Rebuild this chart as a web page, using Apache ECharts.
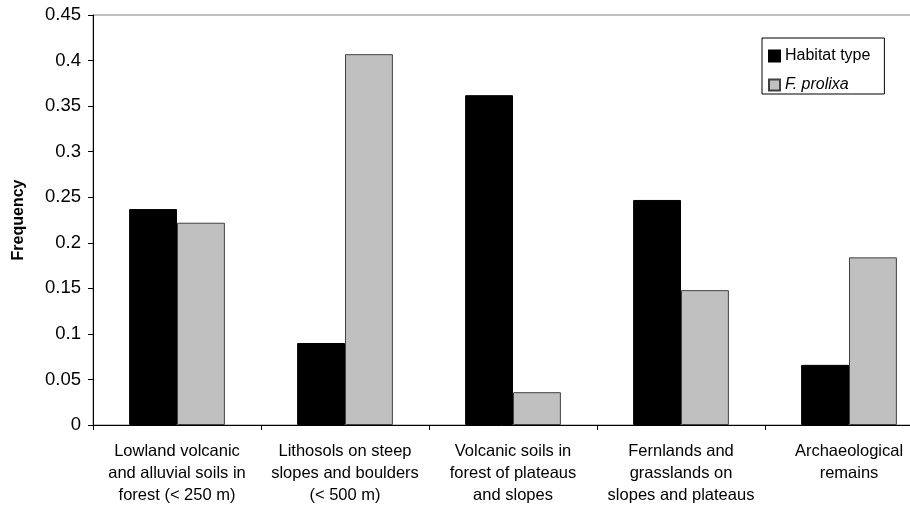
<!DOCTYPE html>
<html>
<head>
<meta charset="utf-8">
<script src="https://cdn.jsdelivr.net/npm/echarts@6/dist/echarts.min.js"></script>
<style>
html,body{margin:0;padding:0;background:#fff;}
#c{width:910px;height:506px;}
</style>
</head>
<body>
<div id="c"></div>
<script>
const categories = [
  "Lowland volcanic\nand alluvial soils in\nforest (< 250 m)",
  "Lithosols on steep\nslopes and boulders\n(< 500 m)",
  "Volcanic soils in\nforest of plateaus\nand slopes",
  "Fernlands and\ngrasslands on\nslopes and plateaus",
  "Archaeological\nremains"
];
const habitatType = [0.237, 0.090, 0.362, 0.247, 0.066];
const fProlixa = [0.222, 0.407, 0.036, 0.148, 0.184];
const yTicks = [0, 0.05, 0.1, 0.15, 0.2, 0.25, 0.3, 0.35, 0.4, 0.45];

const chart = echarts.init(document.getElementById('c'), null, {renderer: 'canvas'});
const font = 'Liberation Sans, Arial, sans-serif';
chart.setOption({
  animation: false,
  backgroundColor: '#fff',
  textStyle: {fontFamily: font},
  grid: {
    left: 93, top: 15, width: 840, bottom: 81,
    outerBoundsMode: 'none',
    containLabel: false,
    show: true, borderColor: '#808080', borderWidth: 1, backgroundColor: 'transparent'
  },
  legend: {
    orient: 'vertical',
    left: 762, top: 38,
    padding: [10, 14, 1, 6],
    itemGap: 13,
    itemWidth: 11, itemHeight: 11,
    icon: 'rect',
    borderColor: '#000', borderWidth: 1,
    backgroundColor: '#fff',
    textStyle: {fontSize: 16, color: '#000', fontFamily: font,
      rich: {i: {fontStyle: 'italic', fontSize: 16, fontFamily: font, color: '#000'}}},
    formatter: function (n) { return n === 'F. prolixa' ? '{i|F. prolixa}' : n; },
    data: ['Habitat type', 'F. prolixa']
  },
  xAxis: {
    type: 'category',
    data: categories,
    axisLine: {lineStyle: {color: '#000', width: 1}},
    axisTick: {show: true, length: 5, lineStyle: {color: '#000'}},
    axisLabel: {color: '#000', fontSize: 16.5, lineHeight: 22, margin: 15, interval: 0, fontFamily: font}
  },
  yAxis: {
    type: 'value',
    min: 0, max: 0.45, interval: 0.05,
    name: 'Frequency',
    nameLocation: 'middle',
    nameGap: 66,
    nameRotate: 90,
    nameTextStyle: {fontSize: 16, fontWeight: 'bold', color: '#000', fontFamily: font},
    axisLine: {show: true, lineStyle: {color: '#000', width: 1}},
    axisTick: {show: true, length: 5, lineStyle: {color: '#000'}},
    splitLine: {show: false},
    axisLabel: {color: '#000', fontSize: 18.5, margin: 12, fontFamily: font,
      formatter: function (v) {
        const t = yTicks.find(x => Math.abs(x - v) < 1e-9);
        return t === undefined ? '' : String(+t.toFixed(2));
      }}
  },
  series: [
    {
      name: 'Habitat type', type: 'bar', data: habitatType,
      barGap: '0%', barCategoryGap: '43%',
      itemStyle: {color: '#000', borderColor: '#000', borderWidth: 1}
    },
    {
      name: 'F. prolixa', type: 'bar', data: fProlixa,
      barGap: '0%', barCategoryGap: '43%',
      itemStyle: {color: '#c0c0c0', borderColor: '#404040', borderWidth: 1}
    }
  ]
});
</script>
</body>
</html>
